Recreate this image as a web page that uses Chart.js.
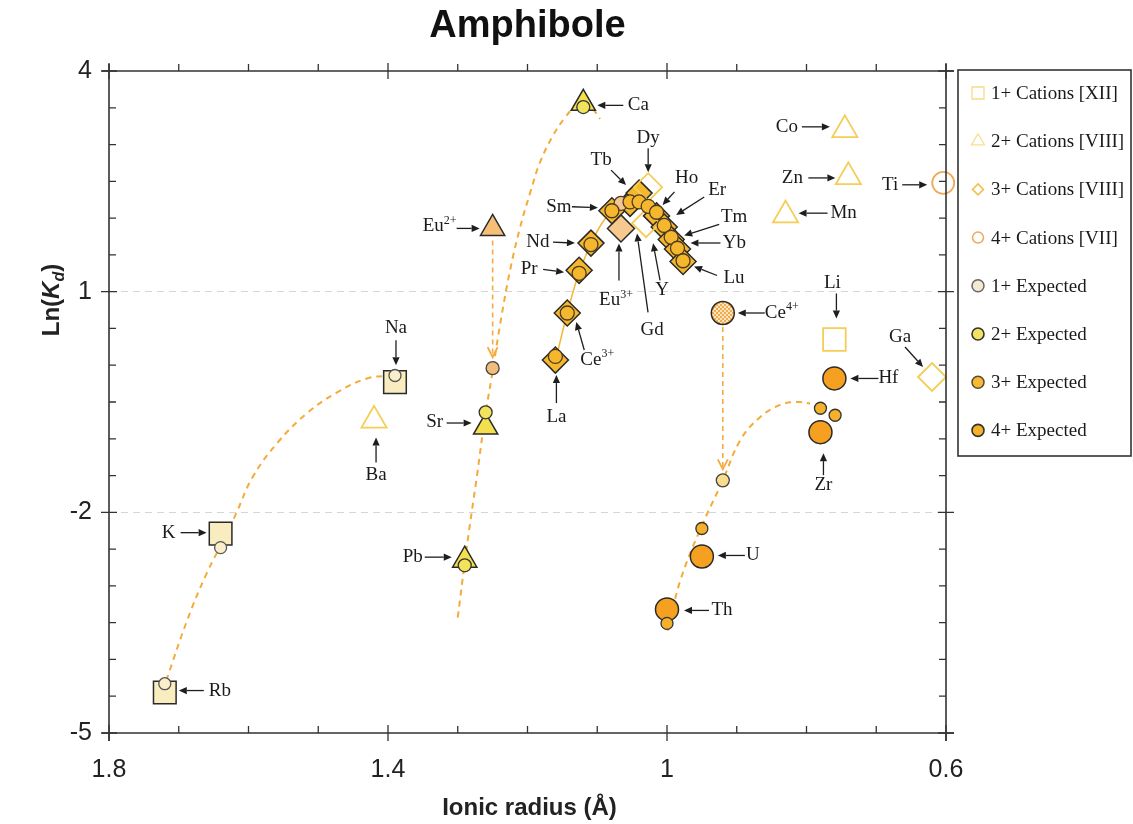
<!DOCTYPE html>
<html><head><meta charset="utf-8">
<script src="https://cdn.jsdelivr.net/npm/chart.js@4.4.1/dist/chart.umd.min.js"></script>
<style>html,body{margin:0;padding:0;background:#fff}canvas{display:block}</style>
</head><body>
<canvas id="c" width="1133" height="824"></canvas>
<script>
// ---------- text ----------
const chartTitle = 'Amphibole';
const xTitle = 'Ionic radius (Å)';
const xTickValues = [1.8, 1.4, 1.0, 0.6];
const yTickValues = [4, 1, -2, -5];
const legendLabels = ['1+ Cations [XII]','2+ Cations [VIII]','3+ Cations [VIII]','4+ Cations [VII]','1+ Expected','2+ Expected','3+ Expected','4+ Expected'];

// ---------- 1+ cations ----------
const c1Names = ['Rb','K','Na'];
const c1Radius = [1.72, 1.64, 1.39];
const c1LnKd = [-4.45, -2.29, -0.23];
const c1ExpLnKd = [-4.33, -2.48, -0.14];
const c1OtherNames = ['Li'];
const c1OtherRadius = [0.76];
const c1OtherLnKd = [0.35];

// ---------- 2+ cations ----------
const c2Names = ['Ca','Sr','Pb'];
const c2Radius = [1.12, 1.26, 1.29];
const c2LnKd = [3.56, -0.84, -2.65];
const c2ExpLnKd = [3.51, -0.64, -2.72];
const eu2Names = ['Eu2+'];
const eu2Radius = [1.25];
const eu2LnKd = [1.86];
const eu2ExpLnKd = [-0.04];
const c2OtherNames = ['Ba','Co','Zn','Mn'];
const c2OtherRadius = [1.42, 0.745, 0.74, 0.83];
const c2OtherLnKd = [-0.75, 3.20, 2.56, 2.04];

// ---------- 3+ cations ----------
const c3Names = ['La','Ce3+','Pr','Nd','Sm','Gd','Tb','Ho','Er','Tm','Yb','Lu'];
const c3Radius = [1.16, 1.143, 1.126, 1.109, 1.079, 1.053, 1.04, 1.015, 1.004, 0.994, 0.985, 0.977];
const c3LnKd = [0.07, 0.71, 1.29, 1.66, 2.10, 2.20, 2.34, 2.03, 1.88, 1.71, 1.58, 1.41];
const c3ExpRadius = [1.16, 1.143, 1.126, 1.109, 1.079, 1.053, 1.04, 1.027, 1.015, 1.004, 0.994, 0.985, 0.977];
const c3ExpLnKd = [0.12, 0.71, 1.25, 1.64, 2.10, 2.22, 2.22, 2.16, 2.08, 1.90, 1.74, 1.59, 1.42];
const eu3Names = ['Eu3+'];
const eu3Radius = [1.066];
const eu3LnKd = [1.86];
const eu3ExpLnKd = [2.20];
const c3OtherNames = ['Dy','Y','Ga'];
const c3OtherRadius = [1.027, 1.03, 0.62];
const c3OtherLnKd = [2.42, 1.93, -0.16];

// ---------- 4+ cations ----------
const c4Names = ['Hf','Zr','U','Th'];
const c4Radius = [0.76, 0.78, 0.95, 1.00];
const c4LnKd = [-0.18, -0.91, -2.60, -3.32];
const c4ExpRadius = [0.759, 0.78, 0.95, 1.00];
const c4ExpLnKd = [-0.68, -0.585, -2.22, -3.51];
const ce4Names = ['Ce4+'];
const ce4Radius = [0.92];
const ce4LnKd = [0.71];
const ce4ExpLnKd = [-1.565];
const c4OtherNames = ['Ti'];
const c4OtherRadius = [0.604];
const c4OtherLnKd = [2.48];

// ---------- lattice-strain fit curves ----------
const fit1Radius = [1.718, 1.688, 1.660, 1.631, 1.617, 1.594, 1.559, 1.516, 1.473, 1.430, 1.393];
const fit1LnKd = [-4.29, -3.47, -2.83, -2.29, -2.00, -1.52, -1.06, -0.65, -0.37, -0.18, -0.14];
const fit2Radius = [1.300, 1.288, 1.272, 1.261, 1.251, 1.239, 1.225, 1.211, 1.196, 1.182, 1.163, 1.146, 1.132, 1.118, 1.108, 1.096];
const fit2LnKd = [-3.43, -2.54, -1.47, -0.71, -0.14, 0.57, 1.29, 1.86, 2.35, 2.76, 3.13, 3.37, 3.51, 3.56, 3.50, 3.35];
const fit3Radius = [1.16, 1.143, 1.126, 1.109, 1.094, 1.079, 1.066, 1.053, 1.04, 1.027, 1.015, 1.004, 0.994, 0.985, 0.977];
const fit3LnKd = [0.05, 0.71, 1.26, 1.65, 1.92, 2.10, 2.20, 2.24, 2.24, 2.18, 2.07, 1.90, 1.74, 1.59, 1.42];
const fit4Radius = [0.999, 0.981, 0.953, 0.920, 0.895, 0.867, 0.838, 0.814, 0.795];
const fit4LnKd = [-3.61, -2.93, -2.245, -1.565, -1.02, -0.71, -0.54, -0.50, -0.52];

// ---------- annotation layout (pixel offsets from the labelled marker) ----------
// anchor, text, superscript, textDx, textDy, arrowFromDx, arrowFromDy, arrowToDx, arrowToDy
const annotations = [
 ['Rb','Rb','',55,-2,39,-2,14,-2],
 ['K','K','',-52,-1,-40,-1,-14,-1],
 ['Na','Na','',1,-54,1,-42,1,-17],
 ['Ba','Ba','',2,55,2,42,2,17],
 ['Sr','Sr','',-51,-5,-39,-4,-14,-4],
 ['Pb','Pb','',-52,-3,-40,-3,-13,-3],
 ['Eu2+','Eu','2+',-53,-2,-36,0,-13,0],
 ['Ca','Ca','',55,2,40,2,14,2],
 ['Tb','Tb','',-38,-33,-28,-23,-13,-8],
 ['Dy','Dy','',0,-49,0,-39,0,-15],
 ['Ho','Ho','',30,-38,18,-24,6,-11],
 ['Er','Er','',53,-37,40,-30,12,-12],
 ['Tm','Tm','',63,-22,48,-15,13,-4],
 ['Yb','Yb','',57,-6,43,-6,13,-6],
 ['Lu','Lu','',51,17,34,14,11,5],
 ['Sm','Sm','',-53,-4,-40,-4,-14,-3],
 ['Nd','Nd','',-53,-1,-38,-1,-16,0],
 ['Pr','Pr','',-50,-1,-36,-1,-15,2],
 ['La','La','',1,57,1,43,1,15],
 ['Ce3+','Ce','3+',30,47,17,37,9,9],
 ['Eu3+','Eu','3+',-5,72,-2,52,-2,15],
 ['Y','Y','',16,67,14,57,7,20],
 ['Gd','Gd','',22,127,18,109,7,30],
 ['Co','Co','',-58,-3,-43,-3,-15,-3],
 ['Zn','Zn','',-56,1,-40,1,-13,1],
 ['Mn','Mn','',58,-2,42,-2,13,-2],
 ['Ti','Ti','',-53,2,-41,2,-16,2],
 ['Li','Li','',-2,-56,2,-46,2,-21],
 ['Ga','Ga','',-32,-40,-27,-30,-9,-10],
 ['Hf','Hf','',54,0,44,0,16,0],
 ['Zr','Zr','',3,53,3,43,3,21],
 ['Ce4+','Ce','4+',59,0,42,0,15,0],
 ['U','U','',51,-1,43,-1,16,-1],
 ['Th','Th','',55,1,42,1,17,1]
];

// ---------- helpers ----------
const pts = (xs, ys) => xs.map((x, i) => ({x, y: ys[i]}));
const lookup = {};
function reg(names, xs, ys){ names.forEach((n,i)=>{ lookup[n] = [xs[i], ys[i]]; }); }
reg(c1Names,c1Radius,c1LnKd); reg(c1OtherNames,c1OtherRadius,c1OtherLnKd);
reg(c2Names,c2Radius,c2LnKd); reg(eu2Names,eu2Radius,eu2LnKd); reg(c2OtherNames,c2OtherRadius,c2OtherLnKd);
reg(c3Names,c3Radius,c3LnKd); reg(eu3Names,eu3Radius,eu3LnKd); reg(c3OtherNames,c3OtherRadius,c3OtherLnKd);
reg(c4Names,c4Radius,c4LnKd); reg(ce4Names,ce4Radius,ce4LnKd); reg(c4OtherNames,c4OtherRadius,c4OtherLnKd);

const canvas = document.getElementById('c');
const ce4Pattern = (() => {
  const c = document.createElement('canvas'); c.width = 4; c.height = 4;
  const g = c.getContext('2d');
  g.fillStyle = '#fde6bd'; g.fillRect(0,0,4,4);
  g.fillStyle = '#f2aa4f'; g.fillRect(0,0,2,2); g.fillRect(2,2,2,2);
  return canvas.getContext('2d').createPattern(c, 'repeat');
})();

const DARK = '#2a2a2a';
const HOLLOW = '#f5cd55';
function markers(label, data, style, r, bg, border, bw, order){
  return {label, data, pointStyle: style, pointRadius: r, backgroundColor: bg, borderColor: border,
          pointBorderWidth: bw, borderWidth: bw, showLine: false, order, clip: false};
}
function curve(label, data, color, width, dash, order){
  return {label, data, showLine: true, pointRadius: 0, borderColor: color, borderWidth: width,
          borderDash: dash, tension: 0.4, fill: false, order, clip: false};
}

const datasets = [
  markers('1+ Expected', pts(c1Radius,c1ExpLnKd), 'circle', 6, '#fbeecb', '#555', 1.3, 1),
  markers('2+ Expected', pts(c2Radius,c2ExpLnKd), 'circle', 6.5, '#f3e35a', '#333', 1.3, 1),
  markers('Eu2+ Expected', pts(eu2Radius,eu2ExpLnKd), 'circle', 6.5, '#f0bd7c', '#444', 1.3, 1),
  markers('3+ Expected', pts(c3ExpRadius,c3ExpLnKd), 'circle', 7, '#f5b72e', '#4a3a20', 1.3, 1),
  markers('Eu3+ Expected', pts(eu3Radius,eu3ExpLnKd), 'circle', 7, '#f5c690', '#4a3a20', 1.3, 1),
  markers('4+ Expected', pts(c4ExpRadius,c4ExpLnKd), 'circle', 6, '#f5b12a', '#333', 1.3, 1),
  markers('Ce4+ Expected', pts(ce4Radius,ce4ExpLnKd), 'circle', 6.5, '#f8dc90', '#444', 1.3, 1),

  markers('1+ Cations', pts(c1Radius,c1LnKd), 'rect', 16, '#f9edbf', DARK, 1.5, 3),
  markers('2+ Cations', pts(c2Radius,c2LnKd), 'triangle', 14, '#f4e04e', DARK, 1.5, 3),
  markers('Eu2+', pts(eu2Radius,eu2LnKd), 'triangle', 14, '#f5bf78', DARK, 1.5, 3),
  markers('3+ Cations', pts(c3Radius,c3LnKd), 'rectRot', 13, '#f5b82c', DARK, 1.5, 3),
  markers('Eu3+', pts(eu3Radius,eu3LnKd), 'rectRot', 13.5, '#f7c98f', DARK, 1.5, 3),
  markers('4+ Cations', pts(c4Radius,c4LnKd), 'circle', 11.5, '#f5a020', DARK, 1.5, 3),
  markers('Ce4+', pts(ce4Radius,ce4LnKd), 'circle', 11.5, ce4Pattern, DARK, 1.5, 3),

  markers('1+ other', pts(c1OtherRadius,c1OtherLnKd), 'rect', 16, 'rgba(0,0,0,0)', HOLLOW, 1.8, 2),
  markers('2+ other', pts(c2OtherRadius,c2OtherLnKd), 'triangle', 14.5, 'rgba(0,0,0,0)', HOLLOW, 1.8, 2),
  markers('3+ other', pts(c3OtherRadius,c3OtherLnKd), 'rectRot', 14, 'rgba(0,0,0,0)', HOLLOW, 1.8, 2),
  markers('4+ other', pts(c4OtherRadius,c4OtherLnKd), 'circle', 11, 'rgba(0,0,0,0)', '#f0a85a', 1.8, 2),

  curve('1+ fit', pts(fit1Radius,fit1LnKd), '#f4ab3a', 2, [6,5], 6),
  curve('2+ fit', pts(fit2Radius,fit2LnKd), '#f4ab3a', 2, [6,5], 6),
  curve('3+ fit', pts(fit3Radius,fit3LnKd), '#f2b535', 1.5, [], 5),
  curve('4+ fit', pts(fit4Radius,fit4LnKd), '#f4ab3a', 2, [6,5], 6)
];

// ---------- drawing plugin ----------
function arrow(ctx, x1, y1, x2, y2, color){
  const a = Math.atan2(y2-y1, x2-x1), L = 8, W = 3.6;
  const bx = x2 - L*Math.cos(a), by = y2 - L*Math.sin(a);
  ctx.strokeStyle = color; ctx.fillStyle = color; ctx.lineWidth = 1.3; ctx.setLineDash([]);
  ctx.beginPath(); ctx.moveTo(x1,y1); ctx.lineTo(bx,by); ctx.stroke();
  ctx.beginPath(); ctx.moveTo(x2,y2);
  ctx.lineTo(bx + W*Math.sin(a), by - W*Math.cos(a));
  ctx.lineTo(bx - W*Math.sin(a), by + W*Math.cos(a));
  ctx.closePath(); ctx.fill();
}
function dashedArrow(ctx, x1, y1, x2, y2){
  ctx.save();
  ctx.strokeStyle = '#f5ab40'; ctx.lineWidth = 1.6; ctx.setLineDash([5,4]);
  ctx.beginPath(); ctx.moveTo(x1,y1); ctx.lineTo(x2,y2); ctx.stroke();
  ctx.setLineDash([]); ctx.lineWidth = 1.8;
  ctx.beginPath(); ctx.moveTo(x2-5,y2-10); ctx.lineTo(x2,y2); ctx.lineTo(x2+5,y2-10); ctx.stroke();
  ctx.restore();
}
function shape(ctx, type, x, y, r, fill, stroke, lw){
  ctx.beginPath();
  if (type === 'rect') ctx.rect(x-r, y-r, 2*r, 2*r);
  else if (type === 'triangle'){ ctx.moveTo(x, y-r); ctx.lineTo(x+r*0.866, y+r*0.5); ctx.lineTo(x-r*0.866, y+r*0.5); ctx.closePath(); }
  else if (type === 'rectRot'){ ctx.moveTo(x, y-r); ctx.lineTo(x+r, y); ctx.lineTo(x, y+r); ctx.lineTo(x-r, y); ctx.closePath(); }
  else ctx.arc(x, y, r, 0, Math.PI*2);
  if (fill){ ctx.fillStyle = fill; ctx.fill(); }
  if (stroke){ ctx.lineWidth = lw; ctx.strokeStyle = stroke; ctx.stroke(); }
}
const legendStyles = [
  ['rect', 6, null, '#f6dc84', 1.3],
  ['triangle', 7.5, null, '#f6e08e', 1.3],
  ['rectRot', 5.5, null, '#f2bf4c', 1.5],
  ['circle', 5.5, null, '#f0a65a', 1.5],
  ['circle', 6, '#f4ead2', '#666', 1.5],
  ['circle', 6, '#f2e461', '#333', 1.6],
  ['circle', 6, '#f6bb35', '#5a4a30', 1.5],
  ['circle', 6, '#f5b228', '#333', 1.6]
];

const decor = {
  id: 'decor',
  beforeDraw(chart){
    const ctx = chart.ctx; ctx.save(); ctx.fillStyle = '#fff'; ctx.fillRect(0,0,chart.width,chart.height); ctx.restore();
  },
  afterDatasetsDraw(chart){
    const ctx = chart.ctx, xs = chart.scales.x, ys = chart.scales.y;
    const px = v => xs.getPixelForValue(v), py = v => ys.getPixelForValue(v);
    ctx.save();
    dashedArrow(ctx, px(eu2Radius[0]), py(eu2LnKd[0]) + 12, px(eu2Radius[0]), py(eu2ExpLnKd[0]) - 11);
    dashedArrow(ctx, px(ce4Radius[0]), py(ce4LnKd[0]) + 14, px(ce4Radius[0]), py(ce4ExpLnKd[0]) - 11);
    ctx.textBaseline = 'middle';
    annotations.forEach(a => {
      const p = lookup[a[0]]; const X = px(p[0]), Y = py(p[1]);
      arrow(ctx, X+a[5], Y+a[6], X+a[7], Y+a[8], '#1e1e1e');
      ctx.font = '19px "Liberation Serif", "DejaVu Serif", serif';
      const w1 = ctx.measureText(a[1]).width;
      ctx.font = '12px "Liberation Serif", serif';
      const w2 = a[2] ? ctx.measureText(a[2]).width : 0;
      const sx = X + a[3] - (w1 + w2)/2;
      ctx.fillStyle = '#1a1a1a';
      ctx.textAlign = 'left';
      ctx.font = '19px "Liberation Serif", "DejaVu Serif", serif';
      ctx.fillText(a[1], sx, Y + a[4]);
      if (a[2]){ ctx.font = '12px "Liberation Serif", serif'; ctx.fillText(a[2], sx + w1, Y + a[4] - 6); }
    });
    const L = chart.chartArea.left, R = chart.chartArea.right, T = chart.chartArea.top, B = chart.chartArea.bottom;
    ctx.strokeStyle = '#333'; ctx.lineWidth = 1.6; ctx.setLineDash([]);
    ctx.beginPath();
    ctx.moveTo(L-7, B); ctx.lineTo(R+8, B);
    ctx.moveTo(L-7, T); ctx.lineTo(R+8, T);
    ctx.moveTo(L, T-7); ctx.lineTo(L, B+8);
    ctx.moveTo(R, T-7); ctx.lineTo(R, B+8);
    ctx.stroke();
    ctx.lineWidth = 1.3;
    ctx.beginPath();
    for (let i = 0; i <= 12; i++){
      const x = px(0.6 + i*0.1), major = i % 4 === 0;
      if (major){ ctx.moveTo(x, B+8); ctx.lineTo(x, B-8); ctx.moveTo(x, T-8); ctx.lineTo(x, T+8); }
      else { ctx.moveTo(x, B); ctx.lineTo(x, B-7); ctx.moveTo(x, T); ctx.lineTo(x, T-7); }
    }
    for (let j = 0; j <= 18; j++){
      const y = py(-5 + j*0.5), major = j % 6 === 0;
      if (major){ ctx.moveTo(L-8, y); ctx.lineTo(L+8, y); ctx.moveTo(R-8, y); ctx.lineTo(R+8, y); }
      else { ctx.moveTo(L, y); ctx.lineTo(L+7, y); ctx.moveTo(R, y); ctx.lineTo(R-7, y); }
    }
    ctx.stroke();
    ctx.restore();
  },
  afterDraw(chart){
    const ctx = chart.ctx, area = chart.chartArea;
    const cx = (area.left + area.right)/2;
    ctx.save();
    ctx.fillStyle = '#111';
    ctx.textAlign = 'center'; ctx.textBaseline = 'alphabetic';
    ctx.font = 'bold 38px "Liberation Sans", Arial, sans-serif';
    ctx.fillText(chartTitle, cx, 37);
    ctx.font = 'bold 24px "Liberation Sans", Arial, sans-serif';
    ctx.fillStyle = '#222';
    ctx.fillText(xTitle, cx + 2, 815);
    ctx.save();
    ctx.translate(59, 300); ctx.rotate(-Math.PI/2);
    const parts = [['Ln(', 'bold 24px', 0], ['K', 'italic bold 24px', 0], ['d', 'italic bold 16px', 5], [')', 'bold 24px', 0]];
    let tw = 0;
    parts.forEach(p => { ctx.font = p[1] + ' "Liberation Sans", Arial, sans-serif'; p.push(ctx.measureText(p[0]).width); tw += p[3]; });
    let x0 = -tw/2;
    ctx.textAlign = 'left';
    parts.forEach(p => { ctx.font = p[1] + ' "Liberation Sans", Arial, sans-serif'; ctx.fillText(p[0], x0, p[2]); x0 += p[3]; });
    ctx.restore();
    const lx = 958, ly = 70, lw = 173, lh = 386;
    ctx.fillStyle = '#fff'; ctx.fillRect(lx, ly, lw, lh);
    ctx.strokeStyle = '#333'; ctx.lineWidth = 1.6; ctx.strokeRect(lx, ly, lw, lh);
    ctx.textAlign = 'left'; ctx.textBaseline = 'middle';
    legendLabels.forEach((t, i) => {
      const y = 93 + i*48.2; const s = legendStyles[i];
      shape(ctx, s[0], 978, y, s[1], s[2], s[3], s[4]);
      ctx.fillStyle = '#1a1a1a';
      ctx.font = '19px "Liberation Serif", "DejaVu Serif", serif';
      ctx.fillText(t, 991, y + 1);
    });
    ctx.restore();
  }
};

new Chart(canvas, {
  type: 'scatter',
  data: { datasets },
  options: {
    responsive: false, animation: false, events: [],
    layout: { padding: { top: 71, right: 187, bottom: 0, left: 0 } },
    plugins: { legend: { display: false }, tooltip: { enabled: false }, title: { display: false } },
    scales: {
      x: {
        type: 'linear', reverse: true, min: 0.6, max: 1.8, position: 'bottom',
        afterBuildTicks: s => { s.ticks = xTickValues.map(v => ({ value: v })); },
        afterFit: s => { s.height = 91; },
        grid: { display: false, drawTicks: false }, border: { display: false },
        ticks: { padding: 22, autoSkip: false, maxRotation: 0, color: '#222',
                 font: { family: '"Liberation Sans", Arial, sans-serif', size: 25 }, callback: v => String(v) }
      },
      y: {
        type: 'linear', min: -5, max: 4,
        afterBuildTicks: s => { s.ticks = yTickValues.map(v => ({ value: v })); },
        afterFit: s => { s.width = 109; },
        grid: { drawTicks: false, lineWidth: 1,
                color: c => (c.tick && (c.tick.value === 1 || c.tick.value === -2)) ? '#d6d6d6' : 'rgba(0,0,0,0)' },
        border: { display: false, dash: [7, 5] },
        ticks: { padding: 17, color: '#222',
                 font: { family: '"Liberation Sans", Arial, sans-serif', size: 25 }, callback: v => String(v) }
      }
    }
  },
  plugins: [decor]
});
</script>
</body></html>
